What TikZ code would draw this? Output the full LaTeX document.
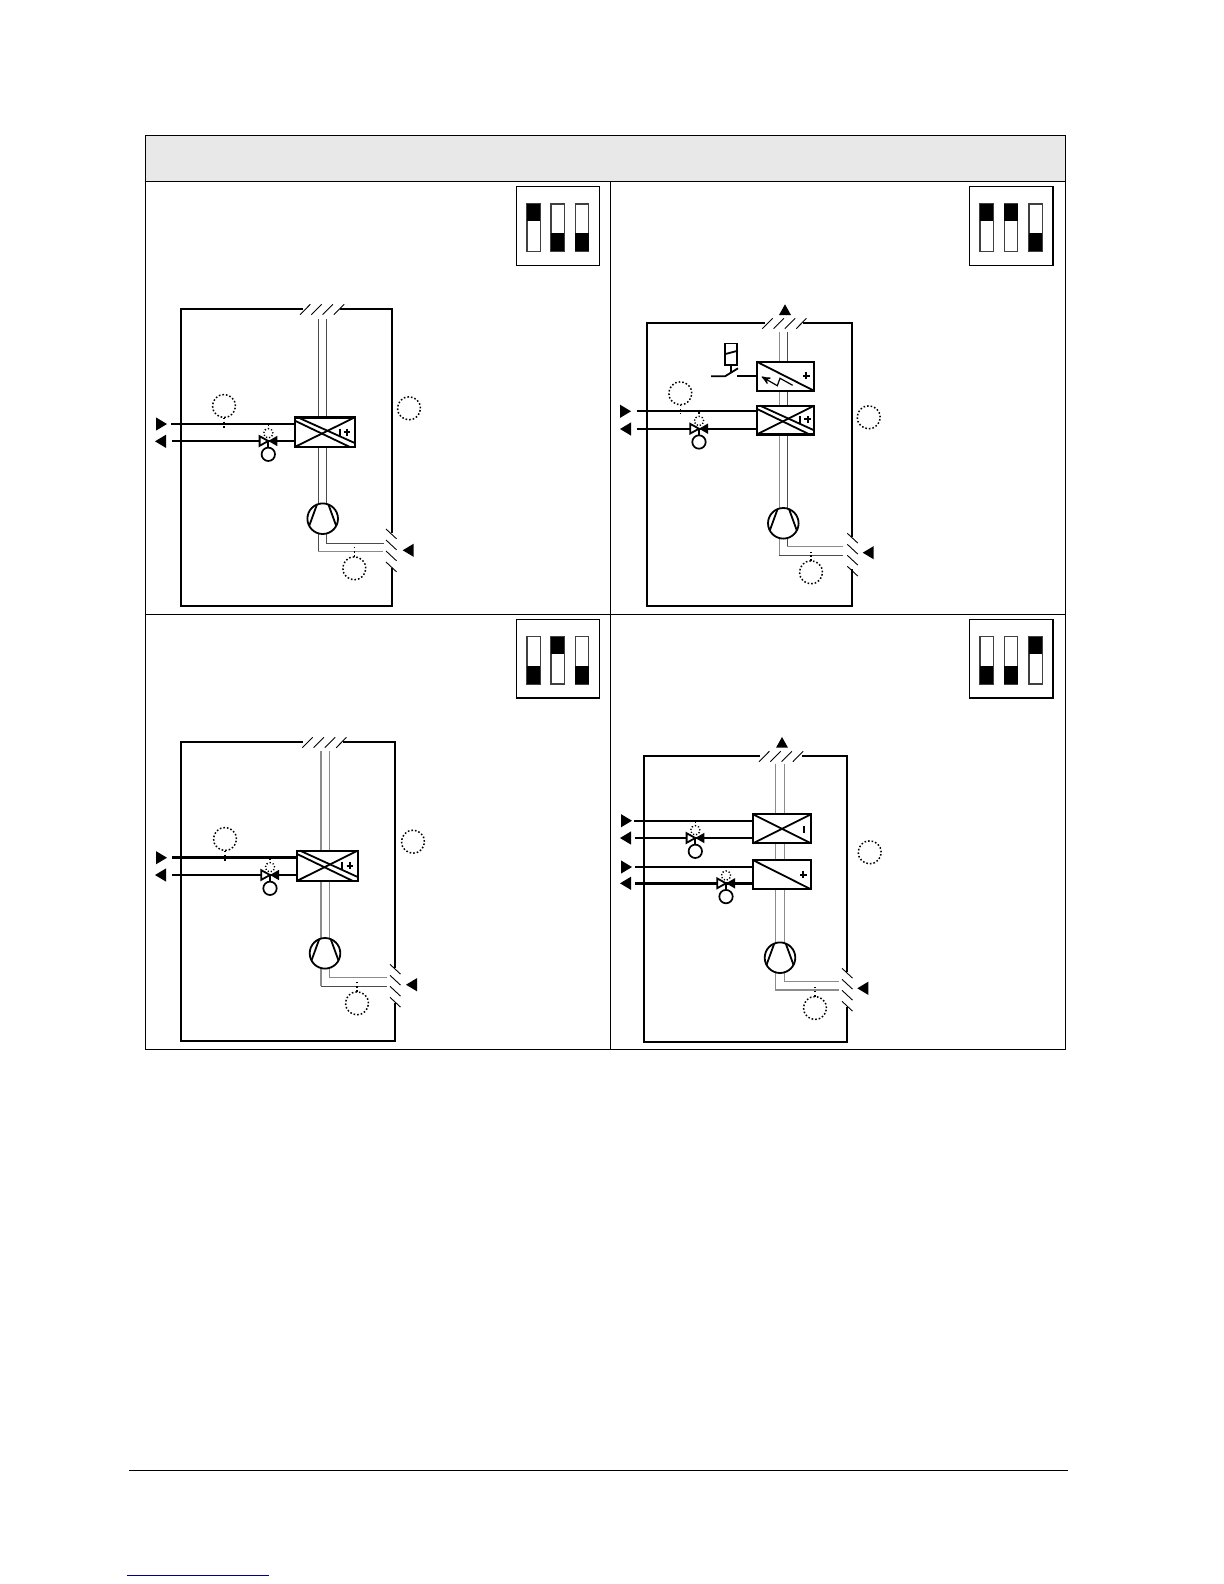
\documentclass[tikz,border=0pt]{standalone}
\usepackage{tikz}
\usetikzlibrary{arrows}
\pgfdeclarelayer{background}
\pgfsetlayers{background,main}
\definecolor{headgray}{HTML}{E8E8E8}
\definecolor{linkblue}{HTML}{00008B}
\tikzstyle{grid}=[line width=.5pt]
\tikzstyle{cabinet}=[line width=.9pt,line join=miter]
\tikzstyle{pipe}=[line width=.55pt,black!70]
\tikzstyle{pipelight}=[line width=.65pt,black!45]
\tikzstyle{water}=[line width=1pt]
\tikzstyle{waterthick}=[line width=1.6pt]
\tikzstyle{cut}=[line width=.45pt]
\tikzstyle{coilbox}=[draw,fill=white,line width=1.1pt,inner sep=0pt,outer sep=0pt]
\tikzstyle{coilline}=[line width=.9pt]
\tikzstyle{sign}=[line width=1pt]
\tikzstyle{dipbox}=[draw,line width=.6pt,inner sep=0pt,minimum width=41.7pt,minimum height=39.3pt]
\tikzstyle{dipedge}=[line width=.7pt,black!75]
\tikzstyle{fancircle}=[draw,circle,fill=white,line width=.9pt,inner sep=0pt,outer sep=0pt,minimum size=15.3pt]
\tikzstyle{actuator}=[draw,circle,fill=white,line width=.85pt,inner sep=0pt,outer sep=0pt,minimum size=6.7pt]
\tikzstyle{tagcircle}=[draw,circle,line width=.75pt,dash pattern=on .8pt off 1pt,inner sep=0pt,outer sep=0pt,minimum size=11.5pt]
\tikzstyle{pilot}=[draw,circle,line width=.7pt,dash pattern=on .6pt off 1pt,inner sep=0pt,outer sep=0pt,minimum size=4.7pt]
\tikzstyle{leader}=[line width=.75pt,dash pattern=on .8pt off 1.3pt]
\tikzstyle{bolt}=[line width=.6pt,<-,>=stealth']

\newcommand{\leverU}[2]{\draw[dipedge] (#1,#2) rectangle +(13.3,47.3); \fill (#1,#2) rectangle +(13.3,17.3);}
\newcommand{\leverD}[2]{\draw[dipedge] (#1,#2) rectangle +(13.3,47.3); \fill (#1,#2+29.3) rectangle +(13.3,18);}
\newcommand{\tipE}[2]{\fill (#1,#2) -- (#1-11,#2-6.6) -- (#1-11,#2+6.6) -- cycle;}
\newcommand{\tipW}[2]{\fill (#1,#2) -- (#1+11,#2-6.6) -- (#1+11,#2+6.6) -- cycle;}
\newcommand{\tipN}[2]{\fill (#1,#2) -- (#1-6,#2+10.7) -- (#1+6,#2+10.7) -- cycle;}
\newcommand{\cutsTop}[2]{
  \draw[cut] (#1,#2) -- +(10.3,-10.4);
  \draw[cut] (#1+11.3,#2) -- +(10.3,-10.4);
  \draw[cut] (#1+22.6,#2) -- +(10.3,-10.4);
  \draw[cut] (#1+33.9,#2) -- +(10.3,-10.4);
}
\newcommand{\cutsSide}[2]{
  \draw[cut] (#1,#2) -- +(10.5,9.8);
  \draw[cut] (#1,#2+11) -- +(10.5,9.8);
  \draw[cut] (#1,#2+22) -- +(10.5,9.8);
  \draw[cut] (#1,#2+33) -- +(10.5,9.8);
}
\newcommand{\signplus}[2]{\draw[sign] (#1-3.3,#2) -- (#1+3.3,#2) (#1,#2-3.3) -- (#1,#2+3.3);}
\newcommand{\signbar}[2]{\draw[sign] (#1,#2-3.5) -- (#1,#2+3.5);}
\newcommand{\diagdouble}[1]{
  \draw[coilline] (#1.south west) -- (#1.north east);
  \draw[coilline] ([xshift=1.6pt]#1.north west) -- ([yshift=2pt]#1.south east);
  \draw[coilline] ([yshift=-1.6pt]#1.north west) -- ([xshift=-2.4pt]#1.south east);
}
\newcommand{\fan}[3]{
  \node[fancircle] (#1) at (#2,#3) {};
  \draw[coilline] (#1.112) -- (#1.208);
  \draw[coilline] (#1.68) -- (#1.-28);
}
\newcommand{\valve}[3]{
  \coordinate (#1) at (#2,#3);
  \node[pilot] (#1pil) at (#2,#3-7.7) {};
  \node[actuator] (#1act) at (#2,#3+13.3) {};
  \draw[coilline] (#1) -- (#1act);
  \draw[coilline,fill=white] (#2,#3) -- (#2-8.7,#3-4.8) -- (#2-8.7,#3+4.8) -- cycle;
  \fill (#2,#3) -- (#2+9,#3-5.2) -- (#2+9,#3+5.2) -- cycle;
  \fill (#2-.8,#3-16.8) rectangle +(1.6,1.6);
}

\begin{document}
\begin{tikzpicture}[x=.5pt,y=-.5pt]
    \useasboundingbox (0,0) rectangle (1224,1584);
    \begin{pgfonlayer}{background}
      \fill[white] (0,0) rectangle (1224,1584);
    \end{pgfonlayer}

    % table
    \fill[headgray] (145.3,135.3) rectangle (1065.3,181);
    \draw[grid] (145.3,135.3) rectangle (1065.3,1049.3);
    \draw[grid] (145.3,181) -- (1065.3,181);
    \draw[grid] (145.3,614.3) -- (1065.3,614.3);
    \draw[grid] (610.7,181) -- (610.7,1049.3);

    % dip switches
    \node[dipbox] (dipa) at (558,226) {};
    \leverU{527}{204} \leverD{551}{204} \leverD{575.3}{204}
    \node[dipbox] (dipb) at (1011.3,226) {};
    \leverU{980}{204} \leverU{1004.3}{204} \leverD{1029}{204}
    \node[dipbox] (dipc) at (558,658.6) {};
    \leverD{527}{636.7} \leverU{551}{636.7} \leverD{575.3}{636.7}
    \node[dipbox] (dipd) at (1011.3,658.6) {};
    \leverD{980}{636.7} \leverD{1004.3}{636.7} \leverU{1029}{636.7}

    % upper left
    \draw[cabinet] (303,309.3) -- (180.7,309.3) -- (180.7,605.7) -- (391.7,605.7) -- (391.7,568);
    \draw[cabinet] (391.7,533) -- (391.7,309.3) -- (340,309.3);
    \cutsTop{300}{314.7}
    \cutsSide{386}{529}
    \coordinate (pipea1) at (318.3,318.7);
    \coordinate (pipea2) at (326.3,318.7);
    \coordinate (outa1) at (382.7,551.7);
    \coordinate (outa2) at (384.3,543.3);
    \begin{pgfonlayer}{background}
      \draw[pipe] (pipea1) -- (pipea1 |- outa1);
      \draw[pipelight] (pipea1 |- outa1) -- (outa1);
      \draw[pipe] (pipea2) -- (pipea2 |- outa2) -- (outa2);
    \end{pgfonlayer}
    \node[coilbox,minimum width=30pt,minimum height=14.8pt] (coila) at (324.7,432.2) {};
    \diagdouble{coila}
    \signbar{340.3}{432.3} \signplus{347}{432.3}
    \fan{fana}{322.7}{518.7}
    \coordinate (ina1) at (171,424);
    \coordinate (ina2) at (172,441);
    \draw[water] (ina1) -- (ina1 -| coila.west);
    \draw[water] (ina2) -- (ina2 -| coila.west);
    \tipE{167}{424} \tipW{155}{441.3}
    \valve{vlva}{268.3}{441}
    \tipW{402.7}{550.3}
    \node[tagcircle] (taga1) at (224,406) {};
    \node[tagcircle] (taga2) at (409,408.3) {};
    \node[tagcircle] (taga3) at (354.3,568.3) {};
    \draw[leader] (taga1.south) -- ++(0,10.5);
    \draw[leader] (taga3.north) -- ++(0,-9.5);

    % upper right
    \draw[cabinet] (765,323) -- (647,323) -- (647,606.3) -- (852.3,606.3) -- (852.3,569);
    \draw[cabinet] (852.3,537) -- (852.3,323) -- (803,323);
    \cutsTop{762.3}{328.7}
    \cutsSide{847.3}{533.3}
    \tipN{785}{304.3}
    \coordinate (pipeb1) at (779.3,332);
    \coordinate (pipeb2) at (787.3,332);
    \coordinate (outb1) at (842.7,555.3);
    \coordinate (outb2) at (842.7,546.7);
    \begin{pgfonlayer}{background}
      \draw[pipelight] (pipeb1) -- (pipeb1 |- outb1);
      \draw[pipe] (pipeb1 |- outb1) -- (outb1);
      \draw[pipe] (pipeb2) -- (pipeb2 |- outb2);
      \draw[pipelight] (pipeb2 |- outb2) -- (outb2);
    \end{pgfonlayer}
    \node[coilbox,minimum width=28.8pt,minimum height=14.6pt] (heatb) at (785.5,376.3) {};
    \draw[coilline] (heatb.north west) -- (heatb.south east);
    \signplus{806.3}{375.7}
    \draw[bolt] (761.7,376.7) -- (777.3,385.7) -- (780,378.3) -- (792.7,385.3);
    \node[coilbox,minimum width=28.8pt,minimum height=14.4pt] (coilb) at (785.5,420) {};
    \diagdouble{coilb}
    \signbar{800}{419.3} \signplus{807.7}{419.3}
    \fan{fanb}{783.3}{523.3}
    \node[draw,fill=white,line width=.75pt,inner sep=0pt,minimum width=6.1pt,minimum height=10.6pt] (relay) at (731.1,354.3) {};
    \draw[coilline] (relay.west) -- ([yshift=1.8pt]relay.east);
    \coordinate (pivot) at (725,376.3);
    \coordinate (bladeend) at (738,368.3);
    \coordinate (contact) at (737.3,375.7);
    \draw[coilline] (relay.south) -- ++(0,7.7);
    \draw[coilline] (711,376.3) -- (pivot) -- (bladeend);
    \draw[water] (contact) -- (contact -| heatb.west);
    \coordinate (inb1) at (636.7,411.3);
    \coordinate (inb2) at (636.7,429);
    \draw[water] (inb1) -- (inb1 -| coilb.west);
    \draw[water] (inb2) -- (inb2 -| coilb.west);
    \tipE{631}{411.3} \tipW{620}{429}
    \valve{vlvb}{699}{428.7}
    \tipW{862.7}{552.7}
    \node[tagcircle] (tagb1) at (680.3,393.3) {};
    \node[tagcircle] (tagb2) at (868.7,417.3) {};
    \node[tagcircle] (tagb3) at (811,572.3) {};
    \draw[leader] (tagb1.south) -- ++(0,9.5);
    \draw[leader] (tagb3.north) -- ++(0,-8.5);

    % lower left
    \draw[cabinet] (303,742) -- (181.3,742) -- (181.3,1041) -- (395,1041) -- (395,1003);
    \draw[cabinet] (395,968) -- (395,742) -- (343,742);
    \cutsTop{302.3}{747.7}
    \cutsSide{390}{964.3}
    \coordinate (pipec1) at (321,751.3);
    \coordinate (pipec2) at (329.3,751.3);
    \coordinate (outc1) at (386.7,986.3);
    \coordinate (outc2) at (386.7,977.7);
    \begin{pgfonlayer}{background}
      \draw[pipelight] (pipec1) -- (pipec1 |- outc1);
      \draw[pipe] (pipec1 |- outc1) -- (outc1);
      \draw[pipelight] (pipec2) -- (pipec2 |- outc2) -- (outc2);
    \end{pgfonlayer}
    \node[coilbox,minimum width=30.5pt,minimum height=15.2pt] (coilc) at (327.2,865.8) {};
    \diagdouble{coilc}
    \signbar{342}{865.7} \signplus{350}{865.7}
    \fan{fanc}{325}{953.3}
    \coordinate (inc1) at (172,857.7);
    \coordinate (inc2) at (172,875);
    \draw[waterthick] (inc1) -- (inc1 -| coilc.west);
    \draw[water] (inc2) -- (inc2 -| coilc.west);
    \tipE{167}{857.7} \tipW{155}{875}
    \valve{vlvc}{270}{875}
    \tipW{406}{984.7}
    \node[tagcircle] (tagc1) at (225,839) {};
    \node[tagcircle] (tagc2) at (413,841.7) {};
    \node[tagcircle] (tagc3) at (357,1003.3) {};
    \draw[leader] (tagc1.south) -- ++(0,10.5);
    \draw[leader] (tagc3.north) -- ++(0,-9.5);

    % lower right
    \draw[cabinet] (760,756) -- (643.7,756) -- (643.7,1041.7) -- (847,1041.7) -- (847,1006.7);
    \draw[cabinet] (847,971.7) -- (847,756) -- (801.7,756);
    \cutsTop{759}{761.7}
    \cutsSide{842}{968.3}
    \tipN{782}{737}
    \coordinate (piped1) at (775.7,764);
    \coordinate (piped2) at (784.3,764);
    \coordinate (outd1) at (839.3,990);
    \coordinate (outd2) at (839.3,981.3);
    \begin{pgfonlayer}{background}
      \draw[pipelight] (piped1) -- (piped1 |- outd1) -- (outd1);
      \draw[pipelight] (piped2) -- (piped2 |- outd2) -- (outd2);
    \end{pgfonlayer}
    \node[coilbox,minimum width=29pt,minimum height=14.5pt] (coold) at (782,828.8) {};
    \draw[coilline] (coold.north west) -- (coold.south east);
    \draw[coilline] (coold.south west) -- (coold.north east);
    \signbar{804}{829}
    \node[coilbox,minimum width=29pt,minimum height=14.6pt] (heatd) at (782,874.7) {};
    \draw[coilline] (heatd.north west) -- (heatd.south east);
    \signplus{803.3}{874.7}
    \fan{fand}{780}{957.7}
    \coordinate (ind1) at (634.3,820.7);
    \coordinate (ind2) at (635,838);
    \coordinate (ind3) at (635,867);
    \coordinate (ind4) at (635,883.3);
    \draw[water] (ind1) -- (ind1 -| coold.west);
    \draw[water] (ind2) -- (ind2 -| coold.west);
    \draw[water] (ind3) -- (ind3 -| heatd.west);
    \draw[waterthick] (ind4) -- (ind4 -| heatd.west);
    \tipE{632}{820.7} \tipW{620}{838} \tipE{632}{867} \tipW{620}{883.3}
    \valve{vlvd}{695.3}{838}
    \valve{vlve}{726}{883.3}
    \tipW{857.3}{988.3}
    \node[tagcircle] (tagd1) at (869.7,852.3) {};
    \node[tagcircle] (tagd2) at (815,1008) {};
    \draw[leader] (tagd2.north) -- ++(0,-9.5);

    % footer
    \draw[line width=.8pt] (129,1470.3) -- (1067.5,1470.3);
    \draw[line width=.7pt,linkblue] (126.7,1575.3) -- (269,1575.3);
\end{tikzpicture}
\end{document}
